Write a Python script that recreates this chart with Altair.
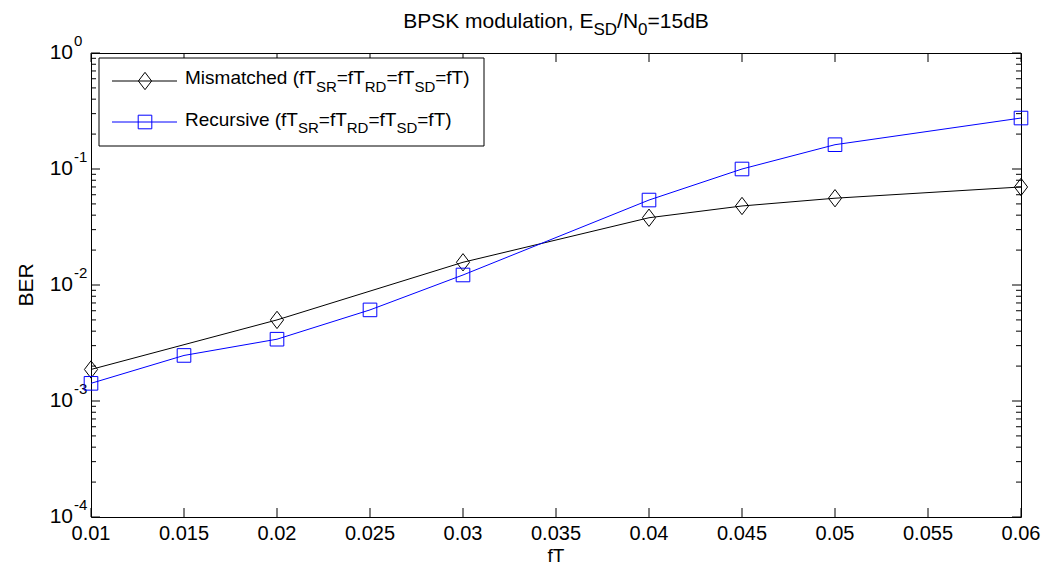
import altair as alt
import pandas as pd

# ---------------- data ----------------
ft_mismatched = [0.01, 0.02, 0.03, 0.04, 0.045, 0.05, 0.06]
ber_mismatched = [1.87e-3, 5.0e-3, 1.57e-2, 3.8e-2, 4.8e-2, 5.6e-2, 7.0e-2]
ft_recursive = [0.01, 0.015, 0.02, 0.025, 0.03, 0.04, 0.045, 0.05, 0.06]
ber_recursive = [1.42e-3, 2.47e-3, 3.41e-3, 6.1e-3, 1.22e-2, 5.4e-2, 1.0e-1, 1.62e-1, 2.75e-1]
x_tick_values = [0.01, 0.015, 0.02, 0.025, 0.03, 0.035, 0.04, 0.045, 0.05, 0.055, 0.06]
y_exponents = [0, -1, -2, -3, -4]
series_names = ["Mismatched", "Recursive"]
series_colors = ["#000000", "#0000ff"]

# ---------------- layout ----------------
W, H = 930, 464
FONT = "Liberation Sans"
ONE = alt.Data(values=[{"k": 0}])

ARIAL = {' ': 278, ',': 278, '.': 278, '/': 278, '=': 584, '(': 333, ')': 333, '-': 333,
         'A': 667, 'B': 667, 'C': 722, 'D': 722, 'E': 667, 'K': 667, 'M': 833, 'N': 722,
         'P': 667, 'R': 722, 'S': 667, 'T': 611, 'a': 556, 'c': 500, 'd': 556, 'e': 556,
         'f': 278, 'h': 556, 'i': 222, 'l': 222, 'm': 833, 'n': 556, 'o': 556, 'r': 333,
         's': 500, 't': 278, 'u': 556, 'v': 500}
for _d in "0123456789":
    ARIAL[_d] = 556


def tw(s, size):
    return sum(ARIAL.get(c, 556) for c in s) / 1000.0 * size


def txt(s, x, y, size, color="black", align="left", baseline="alphabetic", angle=None):
    kw = dict(text=s, align=align, baseline=baseline, fontSize=size, font=FONT, color=color)
    if angle is not None:
        kw["angle"] = angle
    return alt.Chart(ONE).mark_text(**kw).encode(x=alt.value(x), y=alt.value(y))


def rich(pieces, x0, y, size, sub_size, sub_dy):
    out = []
    x = x0
    for s, is_sub in pieces:
        if is_sub:
            out.append(txt(s, x, y + sub_dy, sub_size))
            x += tw(s, sub_size)
        else:
            out.append(txt(s, x, y, size))
            x += tw(s, size)
    return out


def rich_width(pieces, size, sub_size):
    return sum(tw(s, sub_size if b else size) for s, b in pieces)


xs = alt.Scale(domain=[0.01, 0.06], nice=False, zero=False)
ys = alt.Scale(type="log", domain=[1e-4, 1], nice=False)


def X():
    return alt.X("fT:Q", scale=xs, axis=None)


def Y():
    return alt.Y("BER:Q", scale=ys, axis=None)


# data tables
df_mis = pd.DataFrame({"fT": ft_mismatched, "BER": ber_mismatched, "series": series_names[0]})
df_rec = pd.DataFrame({"fT": ft_recursive, "BER": ber_recursive, "series": series_names[1]})
df_xt = pd.DataFrame({"fT": x_tick_values, "label": [f"{v:g}" for v in x_tick_values]})
df_yt = pd.DataFrame({"BER": [10.0 ** e for e in y_exponents],
                      "base": ["10"] * len(y_exponents),
                      "exp": [str(e) for e in y_exponents]})
minor = [k * 10.0 ** e for e in [-4, -3, -2, -1] for k in range(2, 10)]
df_minor = pd.DataFrame({"BER": minor})

layers = []

# ticks (inward)
layers.append(alt.Chart(df_xt).mark_rule(color="black", strokeWidth=1).encode(
    x=X(), y=alt.value(H), y2=alt.value(H - 9)))
layers.append(alt.Chart(df_xt).mark_rule(color="black", strokeWidth=1).encode(
    x=X(), y=alt.value(0), y2=alt.value(9)))
layers.append(alt.Chart(df_yt).mark_rule(color="black", strokeWidth=1).encode(
    y=Y(), x=alt.value(0), x2=alt.value(9)))
layers.append(alt.Chart(df_yt).mark_rule(color="black", strokeWidth=1).encode(
    y=Y(), x=alt.value(W), x2=alt.value(W - 9)))
layers.append(alt.Chart(df_minor).mark_rule(color="black", strokeWidth=1).encode(
    y=Y(), x=alt.value(0), x2=alt.value(5)))
layers.append(alt.Chart(df_minor).mark_rule(color="black", strokeWidth=1).encode(
    y=Y(), x=alt.value(W), x2=alt.value(W - 5)))

# tick labels
layers.append(alt.Chart(df_xt).mark_text(fontSize=20, font=FONT, align="center",
                                         baseline="alphabetic", color="black").encode(
    x=X(), y=alt.value(H + 23), text="label:N"))
layers.append(alt.Chart(df_yt).mark_text(fontSize=21, font=FONT, align="right",
                                         baseline="alphabetic", dy=6, color="black").encode(
    y=Y(), x=alt.value(-18), text="base:N"))
layers.append(alt.Chart(df_yt).mark_text(fontSize=15, font=FONT, align="left",
                                         baseline="alphabetic", dy=-7, color="black").encode(
    y=Y(), x=alt.value(-17), text="exp:N"))

# series
DIAMOND = "M0,-1L0.76,0L0,1L-0.76,0Z"
for df, color, shape, size in [(df_mis, series_colors[0], DIAMOND, 300),
                               (df_rec, series_colors[1], "square", 185)]:
    layers.append(alt.Chart(df).mark_line(color=color, strokeWidth=1).encode(x=X(), y=Y()))
    layers.append(alt.Chart(df).mark_point(shape=shape, size=size, filled=False,
                                           color=color, strokeWidth=1, opacity=1).encode(x=X(), y=Y()))

# legend
layers.append(alt.Chart(ONE).mark_rect(fill="white", stroke="black", strokeWidth=1).encode(
    x=alt.value(8), x2=alt.value(393), y=alt.value(5), y2=alt.value(93)))
LEG_F, LEG_S = 19, 15
leg_rows = [
    (series_colors[0], DIAMOND, 300, 28, 31,
     [("Mismatched (fT", 0), ("SR", 1), ("=fT", 0), ("RD", 1), ("=fT", 0), ("SD", 1), ("=fT)", 0)]),
    (series_colors[1], "square", 185, 69, 72.5,
     [("Recursive (fT", 0), ("SR", 1), ("=fT", 0), ("RD", 1), ("=fT", 0), ("SD", 1), ("=fT)", 0)]),
]
for color, shape, size, ly, by, pieces in leg_rows:
    layers.append(alt.Chart(ONE).mark_rule(color=color, strokeWidth=1).encode(
        x=alt.value(21), x2=alt.value(86), y=alt.value(ly)))
    layers.append(alt.Chart(ONE).mark_point(shape=shape, size=size, filled=False, color=color,
                                            strokeWidth=1, opacity=1).encode(
        x=alt.value(54), y=alt.value(ly)))
    layers += rich(pieces, 94, by, LEG_F, LEG_S, 7.5)

# title
TF, TS = 21, 17
title_pieces = [("BPSK modulation, E", 0), ("SD", 1), ("/N", 0), ("0", 1), ("=15dB", 0)]
tw_total = rich_width(title_pieces, TF, TS)
layers += rich(title_pieces, W / 2 - tw_total / 2, -25.5, TF, TS, 7)

# axis titles
layers.append(txt("fT", W / 2, H + 45, 19, align="center"))
layers.append(txt("BER", -58, H / 2, 21, align="center", angle=270))

chart = alt.layer(*layers).properties(
    width=W, height=H,
    autosize=alt.AutoSizeParams(type="none"),
    padding={"left": 83, "top": 45, "right": 20, "bottom": 50},
).configure_view(stroke="black", strokeWidth=1)

chart.save("out.html", embed_options={"renderer": "svg", "actions": False})
